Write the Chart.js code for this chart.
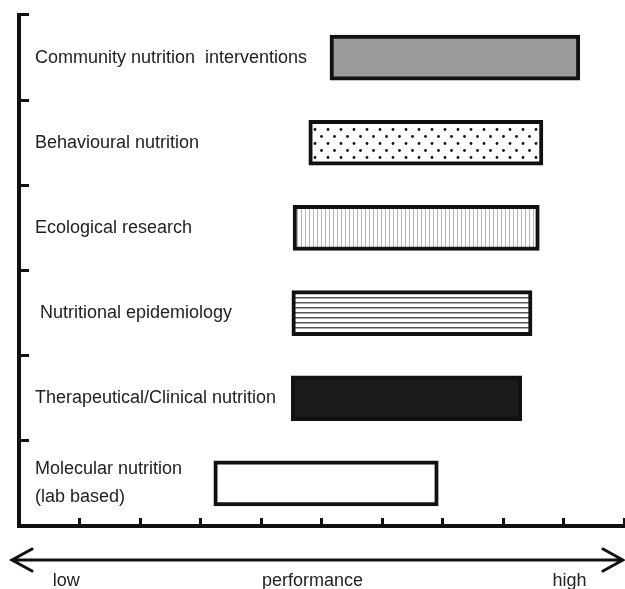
<!DOCTYPE html>
<html>
<head>
<meta charset="utf-8">
<script src="https://cdn.jsdelivr.net/npm/chart.js@4/dist/chart.umd.min.js"></script>
<style>
  html, body { margin: 0; padding: 0; background: #fff; }
  #wrap { width: 625px; height: 589px; }
</style>
</head>
<body>
<div id="wrap"><canvas id="chart" width="625" height="589"></canvas></div>
<script>
// categories, top to bottom
const categories = [
    'Community nutrition  interventions',
    'Behavioural nutrition',
    'Ecological research',
    ' Nutritional epidemiology',
    'Therapeutical/Clinical nutrition',
    ['Molecular nutrition', '(lab based)']
];
// performance range of each field (0 = low, 10 = high)
const rangeStart = [5.14, 4.79, 4.53, 4.51, 4.50, 3.22];
const rangeEnd   = [9.27, 8.66, 8.60, 8.48, 8.31, 6.93];
const axisLabels = ['low', 'performance', 'high'];

// small helper to build a canvas pattern
function makePattern(w, h, draw) {
    const c = document.createElement('canvas');
    c.width = w;
    c.height = h;
    const g = c.getContext('2d');
    g.fillStyle = '#fff';
    g.fillRect(0, 0, w, h);
    draw(g);
    return c.getContext('2d').createPattern(c, 'repeat');
}

const dots = makePattern(13, 14, g => {
    g.fillStyle = '#111';
    g.beginPath(); g.arc(3, 3.5, 1.4, 0, Math.PI * 2); g.fill();
    g.beginPath(); g.arc(9.5, 10.5, 1.4, 0, Math.PI * 2); g.fill();
});
const vLines = makePattern(4, 4, g => {
    g.fillStyle = '#b5b5b5';
    g.fillRect(1, 0, 1, 4);
});
const hLines = makePattern(4, 5, g => {
    g.fillStyle = '#555';
    g.fillRect(0, 2, 4, 1.5);
});

const fills = ['#9a9a9a', dots, vLines, hLines, '#1a1a1a', '#fff'];

// arrow + low / performance / high under the x axis
const performanceArrow = {
    id: 'performanceArrow',
    afterDraw(chart) {
        const ctx = chart.ctx;
        const x = chart.scales.x;
        const y0 = 560;
        const left = 12, right = 623;
        ctx.save();
        ctx.strokeStyle = '#111';
        ctx.lineWidth = 3;
        ctx.lineCap = 'round';
        ctx.beginPath();
        ctx.moveTo(left, y0); ctx.lineTo(right, y0);
        ctx.moveTo(left + 20, y0 - 11); ctx.lineTo(left, y0); ctx.lineTo(left + 20, y0 + 11);
        ctx.moveTo(right - 20, y0 - 11); ctx.lineTo(right, y0); ctx.lineTo(right - 20, y0 + 11);
        ctx.stroke();

        ctx.fillStyle = '#222';
        ctx.font = '18px "Liberation Sans", Arial, sans-serif';
        ctx.textAlign = 'center';
        ctx.textBaseline = 'alphabetic';
        ctx.fillText(axisLabels[0], x.getPixelForValue(0.78), 586);
        ctx.fillText(axisLabels[1], x.getPixelForValue(4.85), 586);
        ctx.fillText(axisLabels[2], x.getPixelForValue(9.1), 586);
        ctx.restore();
    }
};

const ctx = document.getElementById('chart').getContext('2d');
const chart = new Chart(ctx, {
    type: 'bar',
    data: {
        labels: categories,
        datasets: [{
            data: rangeStart.map((s, i) => [s, rangeEnd[i]]),
            backgroundColor: fills,
            borderColor: '#111',
            borderWidth: 4,
            borderSkipped: false,
            barThickness: 45
        }]
    },
    options: {
        indexAxis: 'y',
        responsive: false,
        animation: false,
        devicePixelRatio: 1,
        layout: { padding: { left: 19, right: 1, top: 15, bottom: 63 } },
        plugins: {
            legend: { display: false },
            tooltip: { enabled: false }
        },
        scales: {
            x: {
                type: 'linear',
                min: 0,
                max: 10,
                ticks: { stepSize: 1, display: false },
                grid: {
                    drawOnChartArea: false,
                    tickLength: -8,
                    tickWidth: 3,
                    tickColor: '#111'
                },
                border: { color: '#111', width: 4 },
                afterFit(s) { s.height = 0; s.paddingLeft = 0; s.paddingRight = 0; }
            },
            y: {
                ticks: {
                    mirror: true,
                    padding: 16,
                    color: '#222',
                    font: { family: '"Liberation Sans", Arial, sans-serif', size: 18, lineHeight: 1.55 }
                },
                grid: {
                    drawOnChartArea: false,
                    offset: true,
                    tickLength: -10,
                    tickWidth: 3,
                    tickColor: '#111'
                },
                border: { color: '#111', width: 4 },
                afterFit(s) { s.width = 0; s.paddingTop = 0; s.paddingBottom = 0; }
            }
        }
    },
    plugins: [performanceArrow]
});
</script>
</body>
</html>
